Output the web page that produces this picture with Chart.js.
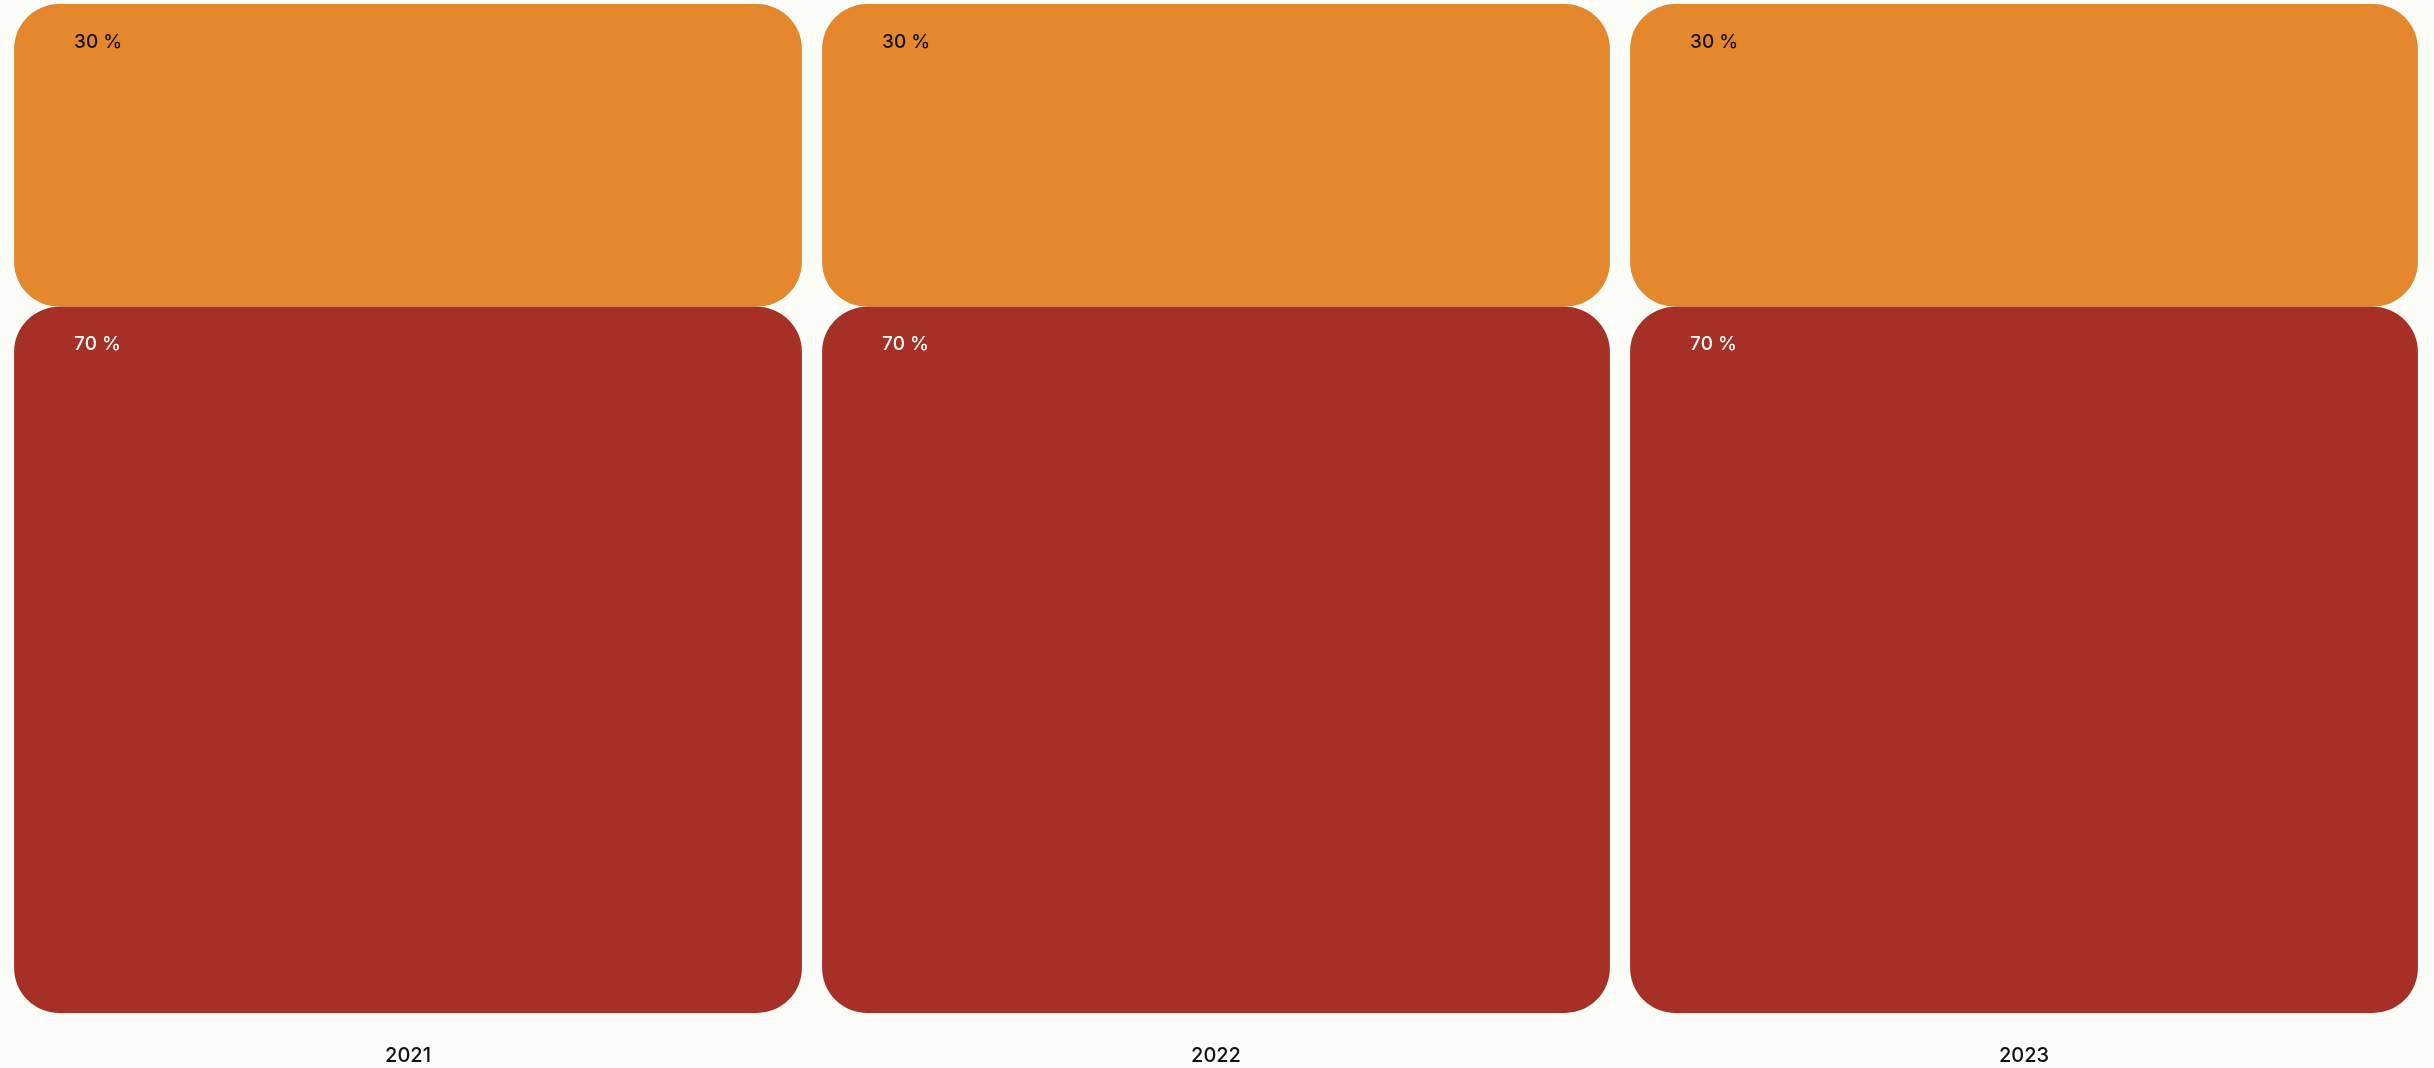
<!DOCTYPE html>
<html>
<head>
<meta charset="utf-8">
<script src="https://cdn.jsdelivr.net/npm/chart.js@4.4.1/dist/chart.umd.min.js"></script>
<style>
  html, body { margin: 0; padding: 0; background: #fcfcf8; overflow: hidden; }
  #wrap { width: 2434px; height: 1068px; position: relative; }
</style>
</head>
<body>
<div id="wrap"><canvas id="c"></canvas></div>
<script>
const years = ['2021', '2022', '2023'];
const seriesNames = ['Lower share', 'Upper share'];
const lowerValues = [70, 70, 70];
const upperValues = [30, 30, 30];
const lowerColor = '#a63026';
const upperColor = '#e5872c';

const corner = 45;
const roundAll = { topLeft: corner, topRight: corner, bottomLeft: corner, bottomRight: corner };

const barLabels = {
  id: 'barLabels',
  afterDatasetsDraw(chart) {
    const ctx = chart.ctx;
    ctx.save();
    ctx.font = '500 19px Inter, "DejaVu Sans", sans-serif';
    ctx.textAlign = 'left';
    ctx.textBaseline = 'middle';
    chart.data.datasets.forEach((ds, di) => {
      const meta = chart.getDatasetMeta(di);
      meta.data.forEach((el, i) => {
        const props = el.getProps(['x', 'y', 'width', 'base'], true);
        const left = props.x - props.width / 2;
        const top = Math.min(props.y, props.base);
        ctx.fillStyle = ds.labelColor;
        ctx.fillText(ds.data[i] + ' %', left + 60, top + 38);
      });
    });
    ctx.restore();
  }
};

new Chart(document.getElementById('c'), {
  type: 'bar',
  data: {
    labels: years,
    datasets: [
      {
        label: seriesNames[0],
        data: lowerValues,
        backgroundColor: lowerColor,
        borderRadius: roundAll,
        borderSkipped: false,
        labelColor: '#ffffff',
        barPercentage: 0.975,
        categoryPercentage: 1.0
      },
      {
        label: seriesNames[1],
        data: upperValues,
        backgroundColor: upperColor,
        borderRadius: roundAll,
        borderSkipped: false,
        labelColor: '#111111',
        barPercentage: 0.975,
        categoryPercentage: 1.0
      }
    ]
  },
  options: {
    responsive: true,
    maintainAspectRatio: false,
    animation: false,
    layout: { padding: { left: 4, right: 6, top: 4, bottom: -31 } },
    plugins: {
      legend: { display: false },
      tooltip: { enabled: false }
    },
    scales: {
      x: {
        stacked: true,
        grid: { display: false, drawTicks: false },
        border: { display: false },
        ticks: {
          color: '#111111',
          padding: 31,
          font: { family: 'Inter, "DejaVu Sans", sans-serif', size: 20, weight: '500' }
        }
      },
      y: {
        stacked: true,
        display: false,
        min: 0,
        max: 100
      }
    }
  },
  plugins: [barLabels]
});
</script>
</body>
</html>
